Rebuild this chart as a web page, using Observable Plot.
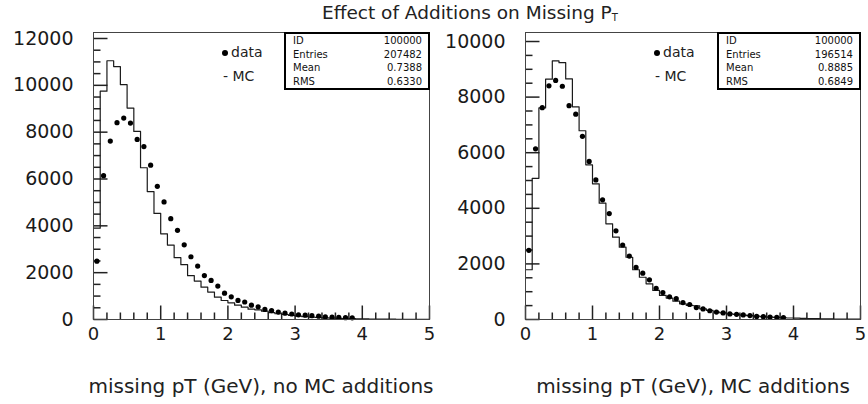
<!DOCTYPE html>
<html>
<head>
<meta charset="utf-8">
<script src="https://cdn.jsdelivr.net/npm/d3@7"></script>
<script src="https://cdn.jsdelivr.net/npm/@observablehq/plot@0.6"></script>
<style>
  body { margin: 0; background: #fff; font-family: "DejaVu Sans", sans-serif; color: #000; }
  #wrap { position: relative; width: 868px; height: 404px; overflow: hidden; background: #fff; }
  .panel { position: absolute; top: 0; }
  .title { position: absolute; top: 2px; left: 322px; font-size: 18.5px; white-space: nowrap; color: #222; }
  .title sub { font-size: 10px; vertical-align: -2px; }
  .xlab { position: absolute; top: 374px; font-size: 20px; white-space: nowrap; text-align: center; width: 400px; color: #222; }
  .legend { position: absolute; font-size: 14px; white-space: nowrap; color: #222; line-height: 14px; }
  .legend .dot { display: inline-block; width: 6px; height: 6px; border-radius: 50%; background: #000; margin-right: 3px; vertical-align: 1px; }
  .stats { position: absolute; top: 32px; height: 58px; border: 2px solid #000; box-sizing: border-box; background: #fff; font-size: 10px; line-height: 13.7px; padding: 0 6px 0 7px; color: #111; }
  .stats div { display: flex; justify-content: space-between; }
</style>
</head>
<body>
<div id="wrap"></div>
<script>
// ---- data ----
const binStart = [0,0.1,0.2,0.3,0.4,0.5,0.6,0.7,0.8,0.9,1.0,1.1,1.2,1.3,1.4,1.5,1.6,1.7,1.8,1.9,
  2.0,2.1,2.2,2.3,2.4,2.5,2.6,2.7,2.8,2.9,3.0,3.1,3.2,3.3,3.4,3.5,3.6,3.7,3.8,3.9,
  4.0,4.1,4.2,4.3,4.4,4.5,4.6,4.7,4.8,4.9];
const binEnd = 5;

// data points (same data in both panels), at bin centres
const dataX = [0.05,0.15,0.25,0.35,0.45,0.55,0.65,0.75,0.85,0.95,1.05,1.15,1.25,1.35,1.45,1.55,1.65,1.75,1.85,1.95,
  2.05,2.15,2.25,2.35,2.45,2.55,2.65,2.75,2.85,2.95,3.05,3.15,3.25,3.35,3.45,3.55,3.65,3.75,3.85];
const dataY = [2490,6140,7620,8405,8600,8390,7690,7385,6590,5685,5020,4305,3810,3190,2680,2280,1875,1667,1426,1125,
  970,814,748,610,540,430,380,315,268,235,200,185,165,140,110,100,88,80,72];

// MC histogram, no MC additions
const mcNoAdd = [3900,9750,11050,10800,10030,9030,8030,6480,5465,4530,3660,3180,2640,2340,1870,1640,1380,1170,955,812,
  713,613,527,442,413,356,290,245,214,175,145,122,102,86,72,60,50,42,35,29,
  24,20,17,14,12,10,8,7,6,5];
// MC histogram, with MC additions
const mcAdd = [1790,5080,7610,8645,9300,9240,8655,7650,6790,5565,4880,4185,3440,2960,2600,2240,1790,1520,1285,1045,
  865,770,660,565,505,495,385,325,265,240,205,180,160,138,118,100,86,74,63,54,
  46,39,33,28,24,20,17,14,12,10];

const xMajor = [0,1,2,3,4,5];
const xMinor = [0.2,0.4,0.6,0.8,1.2,1.4,1.6,1.8,2.2,2.4,2.6,2.8,3.2,3.4,3.6,3.8,4.2,4.4,4.6,4.8];
const yMajorL = [0,2000,4000,6000,8000,10000,12000];
const yMinorL = [500,1000,1500,2500,3000,3500,4500,5000,5500,6500,7000,7500,8500,9000,9500,10500,11000,11500];
const yMajorR = [0,2000,4000,6000,8000,10000];
const yMinorR = [500,1000,1500,2500,3000,3500,4500,5000,5500,6500,7000,7500,8500,9000,9500];

const statsL = [["ID","100000"],["Entries","207482"],["Mean","0.7388"],["RMS","0.6330"]];
const statsR = [["ID","100000"],["Entries","196514"],["Mean","0.8885"],["RMS","0.6849"]];

const title = "Effect of Additions on Missing P";
const xLabelL = "missing pT (GeV), no MC additions";
const xLabelR = "missing pT (GeV), MC additions";

// ---- build ----
const wrap = document.getElementById("wrap");
const W = 434, H = 404, mT = 32, mB = 85;
const X0 = 0, X1 = 5;

function panel({left, mL, mR, yMax, mc, yMajor, yMinor}) {
  const fw = W - mL - mR, fh = H - mT - mB;
  const xLen = px => (X1 - X0) * px / fw;
  const yLen = px => yMax * px / fh;
  const steps = binStart.map((x, i) => ({x, y: mc[i]}));
  steps.push({x: binEnd, y: mc[mc.length - 1]});
  const pts = dataX.map((x, i) => ({x, y: dataY[i]}));
  const yMinT = yMinor.map(y => ({y, x1: X0, x2: X0 + xLen(7)}));
  const yMajT = yMajor.map(y => ({y, x1: X0, x2: X0 + xLen(14)}));
  const xMinT = xMinor.map(x => ({x, y1: 0, y2: yLen(7)}));
  const xMajT = xMajor.map(x => ({x, y1: 0, y2: yLen(14)}));
  const tickStyle = {stroke: "#222", strokeWidth: 1.5};
  const svg = Plot.plot({
    width: W, height: H,
    marginLeft: mL, marginRight: mR, marginTop: mT, marginBottom: mB,
    style: {fontFamily: "DejaVu Sans, sans-serif", color: "#1a1a1a", background: "transparent", overflow: "visible"},
    x: {domain: [X0, X1], axis: null},
    y: {domain: [0, yMax], axis: null},
    marks: [
      Plot.link(yMinT, {x1: "x1", x2: "x2", y1: "y", y2: "y", ...tickStyle}),
      Plot.link(yMajT, {x1: "x1", x2: "x2", y1: "y", y2: "y", ...tickStyle}),
      Plot.link(xMinT, {x1: "x", x2: "x", y1: "y1", y2: "y2", ...tickStyle}),
      Plot.link(xMajT, {x1: "x", x2: "x", y1: "y1", y2: "y2", ...tickStyle}),
      Plot.line(steps, {x: "x", y: "y", curve: "step-after", stroke: "#1a1a1a", strokeWidth: 1.2}),
      Plot.dot(pts, {x: "x", y: "y", r: 2.6, fill: "#000", stroke: "none"}),
      Plot.frame({stroke: "#444", strokeWidth: 1}),
      Plot.axisY({ticks: yMajor, tickSize: 0, tickPadding: 20, fontSize: 19, label: null, tickFormat: d3.format("d")}),
      Plot.axisX({ticks: xMajor, tickSize: 0, tickPadding: 8, fontSize: 18, label: null, tickFormat: d3.format("d")})
    ]
  });
  svg.classList.add("panel");
  svg.style.left = left + "px";
  wrap.appendChild(svg);
}

panel({left: 0, mL: 93, mR: 5, yMax: 12256, mc: mcNoAdd, yMajor: yMajorL, yMinor: yMinorL});
panel({left: 434, mL: 91, mR: 8, yMax: 10324, mc: mcAdd, yMajor: yMajorR, yMinor: yMinorR});

function addDiv(cls, html, styles) {
  const d = document.createElement("div");
  d.className = cls;
  d.innerHTML = html;
  Object.assign(d.style, styles);
  wrap.appendChild(d);
  return d;
}

addDiv("title", title + "<sub>T</sub>", {});
addDiv("xlab", xLabelL, {left: "61px"});
addDiv("xlab", xLabelR, {left: "493px"});

function legend(x) {
  addDiv("legend", "<span class='dot'></span>data", {left: (x - 3) + "px", top: "45px"});
  addDiv("legend", "- MC", {left: (x - 2) + "px", top: "69px"});
}
legend(225);
legend(657);

function stats(x, w, rows) {
  addDiv("stats", rows.map(r => `<div><span>${r[0]}</span><span>${r[1]}</span></div>`).join(""), {left: x + "px", width: w + "px"});
}
stats(284, 146, statsL);
stats(717, 144, statsR);
</script>
</body>
</html>
